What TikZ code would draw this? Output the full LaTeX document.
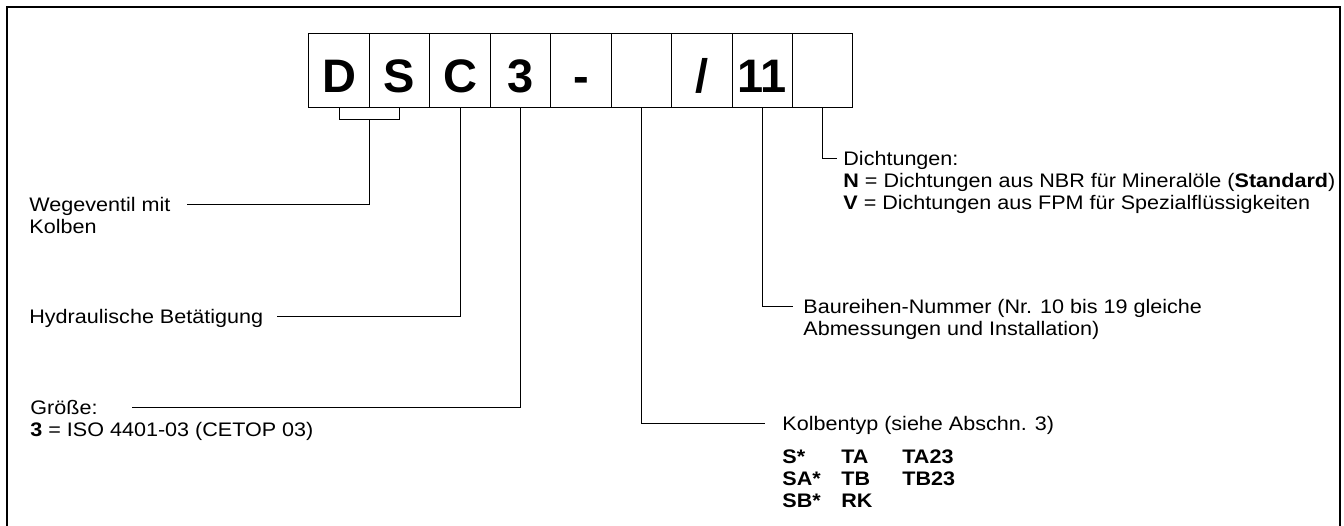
\documentclass[tikz,border=0pt]{standalone}
\usepackage{fontspec}
\newfontfamily\lblfont{Liberation Sans}[FakeStretch=1.1]
\newfontfamily\cellfont{Liberation Sans}
\usetikzlibrary{calc, positioning}

\begin{document}
\begin{tikzpicture}[x=0.5pt, y=-0.5pt,
      frame/.style={draw, line width=0.7pt},
      cell/.style={draw, line width=0.5pt, minimum width=30.22pt,
                   minimum height=37pt, inner sep=0pt,
                   text height=22pt, text depth=0pt,
                   font=\cellfont\bfseries\fontsize{23.5}{23.5}\selectfont},
      lbl/.style={inner sep=0pt, align=left, anchor=base west,
                  font=\lblfont\fontsize{9.8}{11.2}\selectfont},
      lead/.style={line width=0.5pt}]
    \useasboundingbox (0,0) rectangle (1344,525);
    \draw[frame] (7,540) -- (7,7) -- (1340,7) -- (1340,540);
    \foreach \t [count=\i from 0] in {D,S,C,3,-,{},/,11,{}}
      \node[cell] (c\i) at ({339.2+\i*60.44},70) {\t};
    \coordinate (ds) at ($(c0.south)!0.5!(c1.south)+(0,12)$);
    \draw[lead] (c0.south) -- ++(0,12) -| (c1.south);
    \node[lbl] (wege) at (29,233.4) {Wegeventil mit\\Kolben};
    \node[lbl] (hyd) at (29,323) {Hydraulische Betätigung};
    \node[lbl] (size) at (30,436.4) {Größe:\\\textbf{3} = ISO 4401-03 (CETOP 03)};
    \node[lbl] (spool) at (782,507.8) {Kolbentyp (siehe Abschn. 3)\\[5pt]
      \textbf{\makebox[29.5pt][l]{S*}\makebox[30.5pt][l]{TA}TA23}\\
      \textbf{\makebox[29.5pt][l]{SA*}\makebox[30.5pt][l]{TB}TB23}\\
      \textbf{\makebox[29.5pt][l]{SB*}RK}};
    \node[lbl] (series) at (803,335.4) {Baureihen-Nummer (Nr. 10 bis 19 gleiche\\
      Abmessungen und Installation)};
    \node[lbl] (seals) at (843,209.8) {Dichtungen:\\
      \textbf{N} = Dichtungen aus NBR für Mineralöle (\textbf{Standard})\\
      \textbf{V} = Dichtungen aus FPM für Spezialflüssigkeiten};
    \coordinate (wege end) at (187,204);
    \coordinate (hyd end) at (277,316);
    \coordinate (size end) at (132,407);
    \coordinate (spool end) at (765,423);
    \coordinate (series end) at (793,306);
    \coordinate (seals end) at (837,158);
    \draw[lead] (ds) |- (wege end);
    \draw[lead] (c2.south) |- (hyd end);
    \draw[lead] (c3.south) |- (size end);
    \draw[lead] (c5.south) |- (spool end);
    \draw[lead] (c7.south) |- (series end);
    \draw[lead] (c8.south) |- (seals end);
  \end{tikzpicture}
\end{document}
